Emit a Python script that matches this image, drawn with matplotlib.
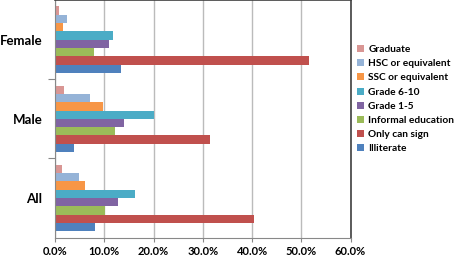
import matplotlib
matplotlib.use("Agg")
import matplotlib.pyplot as plt
from matplotlib.patches import Patch
import numpy as np

plt.rcParams['font.family'] = ['Lato', 'DejaVu Sans']

groups = ["All", "Male", "Female"]
series = ["Illiterate", "Only can sign", "Informal education", "Grade 1-5",
          "Grade 6-10", "SSC or equivalent", "HSC or equivalent", "Graduate"]
values = {
    "Illiterate":         [8.2, 3.8, 13.3],
    "Only can sign":      [40.5, 31.4, 51.6],
    "Informal education": [10.2, 12.2, 7.9],
    "Grade 1-5":          [12.7, 14.1, 11.0],
    "Grade 6-10":         [16.2, 20.0, 11.7],
    "SSC or equivalent":  [6.0, 9.7, 1.6],
    "HSC or equivalent":  [4.9, 7.1, 2.4],
    "Graduate":           [1.4, 1.9, 0.8],
}
colors = {
    "Illiterate": "#4F81BD",
    "Only can sign": "#C0504D",
    "Informal education": "#9BBB59",
    "Grade 1-5": "#8064A2",
    "Grade 6-10": "#4BACC6",
    "SSC or equivalent": "#F79646",
    "HSC or equivalent": "#95B3D7",
    "Graduate": "#D99694",
}
xticks = [0, 10, 20, 30, 40, 50, 60]
xticklabels = ["0.0%", "10.0%", "20.0%", "30.0%", "40.0%", "50.0%", "60.0%"]

fig = plt.figure(figsize=(4.54, 2.6), dpi=100)
ax = fig.add_axes([55/454, (260-237.7)/260, (350.5-55)/454, 237.7/260])

n = len(series)
h = 0.84 / n
y = np.arange(len(groups))
for i, s in enumerate(series):
    off = -0.42 + h * (i + 0.5)
    ax.barh(y + off, values[s], height=h, color=colors[s], edgecolor='none')

ax.set_xlim(0, 60)
ax.set_ylim(-0.5, 2.5)
ax.set_xticks(xticks)
ax.set_xticklabels(xticklabels, fontsize=8, fontweight='bold')
ax.set_yticks(y)
ax.set_yticklabels(groups, fontsize=9.5, fontweight='bold')
ax.tick_params(axis='y', length=0, pad=9)
ax.set_yticks([0.5, 1.5], minor=True)
ax.tick_params(axis='y', which='minor', length=5, color='#888888', width=0.8)
ax.tick_params(axis='x', length=3, color='#888888', width=0.8, pad=3)
ax.grid(axis='x', color='#BBBBBB', linewidth=1)
ax.set_axisbelow(True)
for sp in ['left', 'bottom']:
    ax.spines[sp].set_color('#888888')
    ax.spines[sp].set_linewidth(0.8)
for sp in ['top', 'right']:
    ax.spines[sp].set_color('#404040')
    ax.spines[sp].set_linewidth(1.2)

handles = [Patch(facecolor=colors[s], edgecolor='none') for s in reversed(series)]
leg = fig.legend(handles, list(reversed(series)), loc='upper left',
                 bbox_to_anchor=(357/454, 1 - 45/260), frameon=False,
                 prop={'size': 7.3, 'weight': 'bold'},
                 handlelength=0.7, handleheight=0.7, handletextpad=0.4,
                 labelspacing=0.5, borderaxespad=0, borderpad=0)

fig.savefig("out.png", dpi=100)
